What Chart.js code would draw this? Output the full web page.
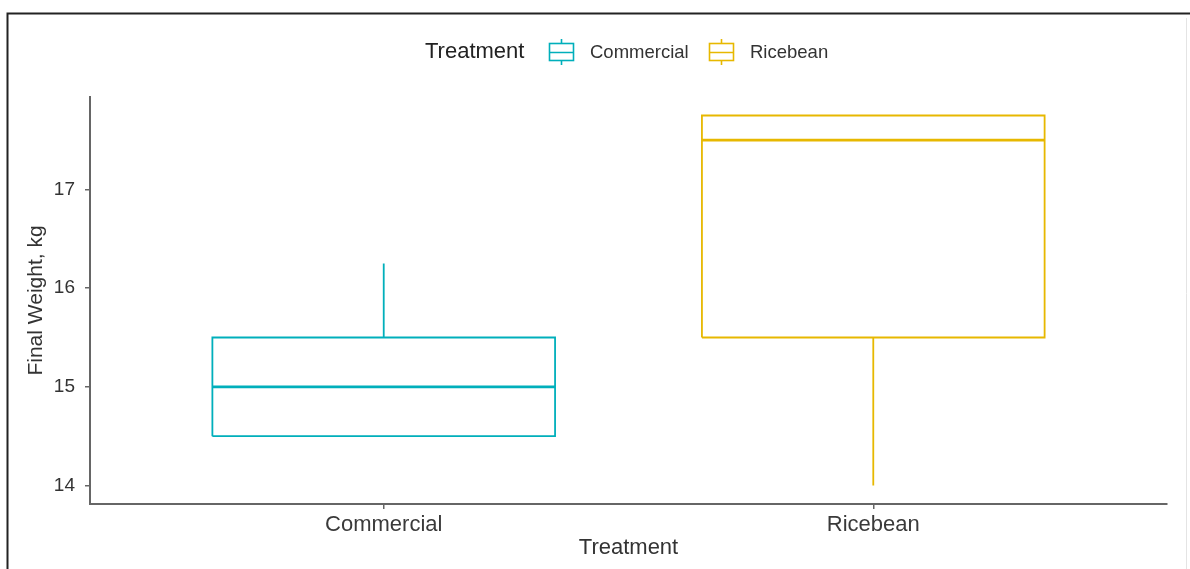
<!DOCTYPE html>
<html>
<head>
<meta charset="utf-8">
<script src="https://cdn.jsdelivr.net/npm/chart.js@4/dist/chart.umd.min.js"></script>
<style>
  html, body { margin: 0; padding: 0; background: #ffffff; }
  #wrap { width: 1190px; height: 569px; position: relative; }
</style>
</head>
<body>
<div id="wrap"><canvas id="c" width="1190" height="569"></canvas></div>
<script>
// ---- data ----
const categories = ['Commercial', 'Ricebean'];
const lowerWhisker = [14.5, 14.0];
const q1 = [14.5, 15.5];
const median = [15.0, 17.5];
const q3 = [15.5, 17.75];
const upperWhisker = [16.25, 17.75];
const yTicks = [14, 15, 16, 17];
const seriesColors = ['#00AFBB', '#E7B800'];
const legendTitle = 'Treatment';
const xTitle = 'Treatment';
const yTitle = 'Final Weight, kg';

// ---- build datasets from data ----
const HW = 0.35; // half box width in category units
const gap = (x) => ({ x: x, y: null });
const datasets = [];
categories.forEach((cat, i) => {
  const x = i + 1;
  const col = seriesColors[i];
  // box outline
  datasets.push({
    label: cat, borderColor: col, borderWidth: 1.8, showLine: true, pointRadius: 0, spanGaps: false, fill: false,
    data: [
      { x: x - HW, y: q1[i] }, { x: x + HW, y: q1[i] }, { x: x + HW, y: q3[i] },
      { x: x - HW, y: q3[i] }, { x: x - HW, y: q1[i] }
    ]
  });
  // whiskers
  datasets.push({
    label: cat + ' whiskers', borderColor: col, borderWidth: 1.8, showLine: true, pointRadius: 0, spanGaps: false, fill: false,
    data: [
      { x: x, y: q3[i] }, { x: x, y: upperWhisker[i] }, gap(x),
      { x: x, y: lowerWhisker[i] }, { x: x, y: q1[i] }
    ]
  });
  // median
  datasets.push({
    label: cat + ' median', borderColor: col, borderWidth: 2.6, showLine: true, pointRadius: 0, fill: false,
    data: [{ x: x - HW, y: median[i] }, { x: x + HW, y: median[i] }]
  });
});

const allVals = lowerWhisker.concat(upperWhisker, q1, q3);
const dMin = Math.min(...allVals), dMax = Math.max(...allVals);
const pad = (dMax - dMin) * 0.05;

const decor = {
  id: 'decor',
  afterDraw(chart) {
    const ctx = chart.ctx;
    ctx.save();
    // outer frame
    ctx.strokeStyle = '#222';
    ctx.lineWidth = 2;
    ctx.beginPath();
    ctx.moveTo(7.5, 569); ctx.lineTo(7.5, 13.5); ctx.lineTo(1190, 13.5);
    ctx.stroke();
    ctx.strokeStyle = '#e4e4e4';
    ctx.lineWidth = 1;
    ctx.beginPath(); ctx.moveTo(1186.5, 18); ctx.lineTo(1186.5, 569); ctx.stroke();

    // legend
    const ly = 52;
    ctx.textBaseline = 'middle';
    ctx.textAlign = 'left';
    ctx.fillStyle = '#222';
    ctx.font = '22px "Liberation Sans", Arial, sans-serif';
    ctx.fillText(legendTitle, 425, ly);
    const iconX = [549, 709];
    const textX = [590, 750];
    ctx.font = '18.5px "Liberation Sans", Arial, sans-serif';
    categories.forEach((cat, i) => {
      const x0 = iconX[i], w = 24;
      ctx.strokeStyle = seriesColors[i];
      ctx.lineWidth = 1.6;
      ctx.strokeRect(x0 + 0.5, ly - 8.5, w, 17);
      ctx.beginPath();
      ctx.moveTo(x0, ly + 0.5); ctx.lineTo(x0 + w + 1, ly + 0.5);
      ctx.moveTo(x0 + w / 2 + 0.5, ly - 13); ctx.lineTo(x0 + w / 2 + 0.5, ly - 8.5);
      ctx.moveTo(x0 + w / 2 + 0.5, ly + 8.5); ctx.lineTo(x0 + w / 2 + 0.5, ly + 13);
      ctx.stroke();
      ctx.fillStyle = '#333';
      ctx.fillText(cat, textX[i], ly + 1);
    });
    ctx.restore();
  }
};

new Chart(document.getElementById('c'), {
  type: 'scatter',
  data: { datasets },
  plugins: [decor],
  options: {
    responsive: false,
    animation: false,
    layout: { padding: { top: 97, right: 23, left: 0, bottom: 0 } },
    plugins: { legend: { display: false }, tooltip: { enabled: false } },
    scales: {
      x: {
        type: 'linear', min: 0.4, max: 2.6,
        afterBuildTicks: (s) => { s.ticks = categories.map((c, i) => ({ value: i + 1 })); },
        afterFit: (s) => { s.height = 65; },
        ticks: {
          callback: (v) => categories[Math.round(v) - 1] || '',
          font: { family: '"Liberation Sans", Arial, sans-serif', size: 22 },
          color: '#3a3a3a', padding: 3, maxRotation: 0
        },
        grid: { drawOnChartArea: false, drawTicks: true, tickLength: 5, color: '#666', lineWidth: 1.5 },
        border: { display: true, color: '#666', width: 2 },
        title: {
          display: true, text: xTitle, color: '#333',
          font: { family: '"Liberation Sans", Arial, sans-serif', size: 22 },
          padding: { top: 0, bottom: 8 }
        }
      },
      y: {
        type: 'linear', min: dMin - pad, max: dMax + pad,
        afterBuildTicks: (s) => { s.ticks = yTicks.map(v => ({ value: v })); },
        afterFit: (s) => { s.width = 90; },
        ticks: {
          font: { family: '"Liberation Sans", Arial, sans-serif', size: 19 },
          color: '#333', padding: 10
        },
        grid: { drawOnChartArea: false, drawTicks: true, tickLength: 5, color: '#666', lineWidth: 1.5 },
        border: { display: true, color: '#666', width: 2 },
        title: {
          display: true, text: yTitle, color: '#333',
          font: { family: '"Liberation Sans", Arial, sans-serif', size: 21 },
          padding: { top: 24, bottom: 0 }
        }
      }
    }
  }
});
</script>
</body>
</html>
